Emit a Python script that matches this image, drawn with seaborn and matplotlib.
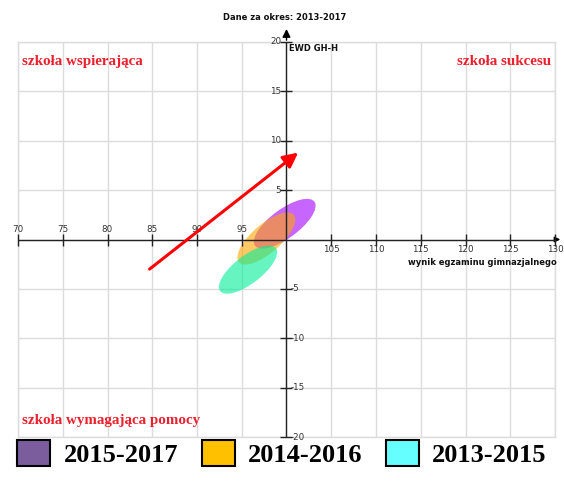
import matplotlib
matplotlib.use("Agg")
import matplotlib.pyplot as plt
from matplotlib.patches import Ellipse, Patch
import seaborn as sns

# ---- data ----
periods = ["2015-2017", "2014-2016", "2013-2015"]
center_x = [99.8, 97.75, 95.7]
center_y = [1.6, 0.1, -3.05]
ell_width = [8.0, 7.8, 7.6]      # full major axis (data units)
ell_height = [3.0, 3.0, 2.9]     # full minor axis (data units)
ell_angle = [33, 37, 34]
ell_colors = ["#a000ff", "#ffa500", "#00ee99"]
legend_colors = ["#7b5c9c", "#ffc000", "#66ffff"]

x_ticks = [70, 75, 80, 85, 90, 95, 100, 105, 110, 115, 120, 125, 130]
y_ticks = [-20, -15, -10, -5, 0, 5, 10, 15, 20]
trend_start = (84.7, -3.0)
trend_end = (101.3, 8.8)

title = "Dane za okres: 2013-2017"
y_label = "EWD GH-H"
x_label = "wynik egzaminu gimnazjalnego"
quadrants = ["szkoła wspierająca", "szkoła sukcesu", "szkoła wymagająca pomocy"]

sns.set_style("whitegrid", {"grid.color": "#dcdcdc", "axes.edgecolor": "#dcdcdc"})

fig = plt.figure(figsize=(5.64, 4.84), dpi=100)
ax = fig.add_axes([18/564, 1-437/484, (555-18)/564, (437-42)/484])
ax.set_xlim(70, 130)
ax.set_ylim(-20, 20)
ax.set_xticks(x_ticks)
ax.set_yticks(y_ticks)
ax.tick_params(length=0, labelbottom=False, labelleft=False)
ax.grid(True, color="#dcdcdc", lw=1)
for s in ax.spines.values():
    s.set_color("#dcdcdc")
    s.set_linewidth(1)

# ellipses
for cx, cy, w, h, a, c in zip(center_x, center_y, ell_width, ell_height, ell_angle, ell_colors):
    ax.add_patch(Ellipse((cx, cy), w, h, angle=a, facecolor=c, alpha=0.6, edgecolor="none", zorder=3))

# central axes
ax.axhline(0, color="#222222", lw=1, zorder=4)
ax.axvline(100, color="#222222", lw=1, zorder=4)
ax.annotate("", xy=(100, 21.6), xytext=(100, 19.9), annotation_clip=False,
            arrowprops=dict(arrowstyle="-|>", color="black", lw=1, mutation_scale=12))
ax.annotate("", xy=(130.9, 0), xytext=(129.9, 0), annotation_clip=False,
            arrowprops=dict(arrowstyle="-|>", color="black", lw=1, mutation_scale=8))

# tick marks & labels
for xt in x_ticks:
    if xt == 100:
        continue
    ax.plot([xt], [0], marker="|", ms=8, mew=1, color="#222222", zorder=5, clip_on=False)
    if xt < 100:
        ax.text(xt, 0.55, str(xt), ha="center", va="bottom", fontsize=6.3, color="#333333")
    else:
        ax.text(xt, -0.6, str(xt), ha="center", va="top", fontsize=6.3, color="#333333")
for yt in y_ticks:
    if yt == 0:
        continue
    ax.plot([100], [yt], marker="_", ms=8, mew=1, color="#222222", zorder=5, clip_on=False)
    if yt > 0:
        ax.text(99.4, yt, str(yt), ha="right", va="center", fontsize=6.3, color="#333333")
    else:
        ax.text(100.5, yt, str(yt), ha="left", va="center", fontsize=6.3, color="#333333")

ax.text(100.3, 19.3, y_label, ha="left", va="center", fontsize=6, fontweight="bold", color="#111111")
ax.text(130.2, -2.3, x_label, ha="right", va="center", fontsize=6, fontweight="bold", color="#111111")

# trend arrow
ax.annotate("", xy=trend_end, xytext=trend_start, zorder=6,
            arrowprops=dict(arrowstyle="-|>", color="red", lw=2.2, mutation_scale=22,
                            shrinkA=0, shrinkB=0))

# quadrant labels
qkw = dict(fontsize=10.8, fontweight="bold", color="#ee1f2d", family="Liberation Serif")
ax.text(70.45, 18.0, quadrants[0], ha="left", va="center", **qkw)
ax.text(129.6, 18.0, quadrants[1], ha="right", va="center", **qkw)
ax.text(70.45, -18.3, quadrants[2], ha="left", va="center", **qkw)

fig.text(285/564, 1-17/484, title, ha="center", va="center", fontsize=6, fontweight="bold", color="#111111")

handles = [Patch(facecolor=c, edgecolor="black", lw=1.5) for c in legend_colors]
fig.legend(handles, periods, loc="lower center", bbox_to_anchor=(0.5, -0.014), ncol=3, frameon=False,
           prop=dict(family="Liberation Serif", weight="bold", size=19), labelcolor="black",
           handlelength=1.25, handleheight=1.15, handletextpad=0.5, columnspacing=0.9)

fig.savefig("out.png", dpi=100)
